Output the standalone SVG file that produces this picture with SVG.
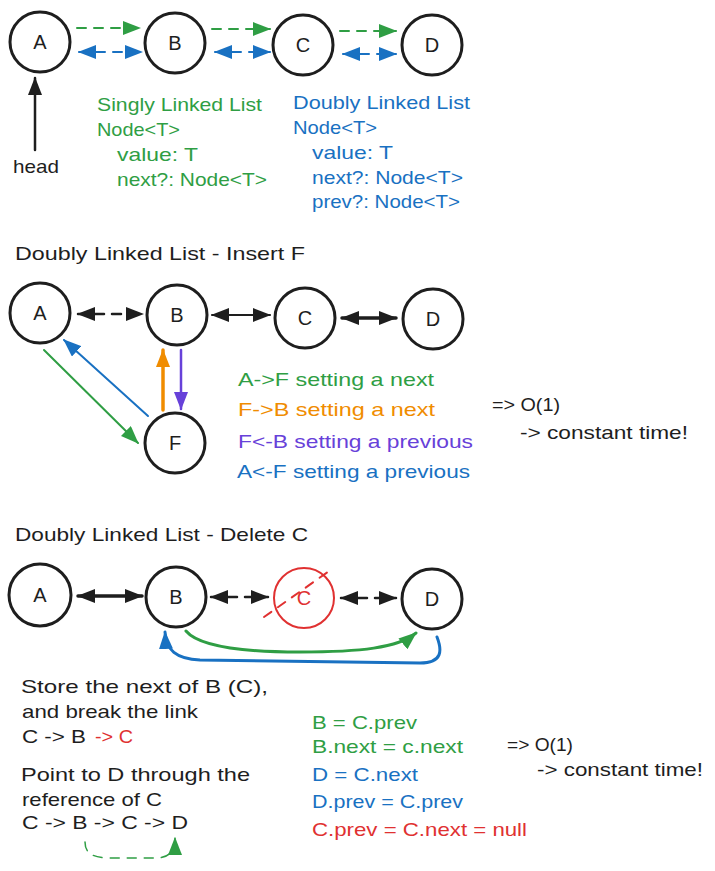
<svg xmlns="http://www.w3.org/2000/svg" width="715" height="871" viewBox="0 0 715 871">
<defs>
<style>
.bg{fill:#ffffff}
.node{fill:none;stroke:#1e1e1e;stroke-width:3}
.lbl{font-family:"Liberation Sans",Arial,sans-serif;font-size:20px;fill:#1e1e1e;text-anchor:middle}
.t{font-family:"Liberation Sans",Arial,sans-serif;font-size:19px}
.k{fill:#1e1e1e}.g{fill:#2f9e44}.b{fill:#1971c2}.o{fill:#f08c00}.p{fill:#6741d9}.r{fill:#e03131}
.ln{fill:none;stroke-linecap:round}
.sg{stroke:#2f9e44}.sb{stroke:#1971c2}.sk{stroke:#1e1e1e}.so{stroke:#f08c00}.sp{stroke:#6741d9}.sr{stroke:#e03131}
.dash{stroke-dasharray:9 8}
</style>
<marker id="mg" viewBox="0 0 18 14" refX="17" refY="7" markerWidth="18" markerHeight="14" markerUnits="userSpaceOnUse" orient="auto-start-reverse"><path d="M0,0 L18,7 L0,14 z" fill="#2f9e44"/></marker>
<marker id="mb" viewBox="0 0 18 14" refX="17" refY="7" markerWidth="18" markerHeight="14" markerUnits="userSpaceOnUse" orient="auto-start-reverse"><path d="M0,0 L18,7 L0,14 z" fill="#1971c2"/></marker>
<marker id="mk" viewBox="0 0 18 14" refX="17" refY="7" markerWidth="18" markerHeight="14" markerUnits="userSpaceOnUse" orient="auto-start-reverse"><path d="M0,0 L18,7 L0,14 z" fill="#1e1e1e"/></marker>
<marker id="mo" viewBox="0 0 18 14" refX="17" refY="7" markerWidth="18" markerHeight="14" markerUnits="userSpaceOnUse" orient="auto-start-reverse"><path d="M0,0 L18,7 L0,14 z" fill="#f08c00"/></marker>
<marker id="mp" viewBox="0 0 18 14" refX="17" refY="7" markerWidth="18" markerHeight="14" markerUnits="userSpaceOnUse" orient="auto-start-reverse"><path d="M0,0 L18,7 L0,14 z" fill="#6741d9"/></marker>
</defs>
<rect class="bg" x="0" y="0" width="715" height="871"/>

<!-- Section 1 nodes -->
<g id="s1-A"><circle class="node" cx="40" cy="42" r="30"/><text class="lbl" x="40" y="49">A</text></g>
<g id="s1-B"><circle class="node" cx="175" cy="43" r="30"/><text class="lbl" x="175" y="50">B</text></g>
<g id="s1-C"><circle class="node" cx="303" cy="45" r="30"/><text class="lbl" x="303" y="52">C</text></g>
<g id="s1-D"><circle class="node" cx="432" cy="45" r="30"/><text class="lbl" x="432" y="52">D</text></g>

<!-- Section 2 nodes -->
<g id="s2-A"><circle class="node" cx="40" cy="313" r="30"/><text class="lbl" x="40" y="320">A</text></g>
<g id="s2-B"><circle class="node" cx="177" cy="315" r="30"/><text class="lbl" x="177" y="322">B</text></g>
<g id="s2-C"><circle class="node" cx="305" cy="318" r="30"/><text class="lbl" x="305" y="325">C</text></g>
<g id="s2-D"><circle class="node" cx="433" cy="319" r="30"/><text class="lbl" x="433" y="326">D</text></g>
<g id="s2-F"><circle class="node" cx="175" cy="443" r="30"/><text class="lbl" x="175" y="450">F</text></g>

<!-- Section 3 nodes -->
<g id="s3-A"><circle class="node" cx="40" cy="595" r="31"/><text class="lbl" x="40" y="602">A</text></g>
<g id="s3-B"><circle class="node" cx="176" cy="597" r="30"/><text class="lbl" x="176" y="604">B</text></g>
<g id="s3-C"><circle class="node" cx="304" cy="598" r="30" style="stroke:#e03131;stroke-width:2"/><text class="lbl" x="304" y="605" style="fill:#e03131">C</text>
<line class="ln sr dash" x1="264" y1="617" x2="332" y2="569" stroke-width="2"/></g>
<g id="s3-D"><circle class="node" cx="432" cy="599" r="30"/><text class="lbl" x="432" y="606">D</text></g>

<!-- connectors -->
<g id="connectors">
<line class="ln sg dash" x1="77" y1="28" x2="140" y2="28" stroke-width="2" marker-end="url(#mg)"/>
<line class="ln sb dash" x1="79" y1="52" x2="142" y2="52" stroke-width="2" marker-start="url(#mb)" marker-end="url(#mb)"/>
<line class="ln sg dash" x1="212" y1="29" x2="270" y2="29" stroke-width="2" marker-end="url(#mg)"/>
<line class="ln sb dash" x1="215" y1="52" x2="270" y2="52" stroke-width="2" marker-start="url(#mb)" marker-end="url(#mb)"/>
<line class="ln sg dash" x1="340" y1="31" x2="396" y2="31" stroke-width="2" marker-end="url(#mg)"/>
<line class="ln sb dash" x1="343" y1="54" x2="396" y2="54" stroke-width="2" marker-start="url(#mb)" marker-end="url(#mb)"/>
<line class="ln sk" x1="35" y1="150" x2="35" y2="78" stroke-width="2.5" marker-end="url(#mk)"/>

<line class="ln sk dash" x1="78" y1="314" x2="143" y2="314" stroke-width="2.5" marker-start="url(#mk)" marker-end="url(#mk)"/>
<line class="ln sk" x1="212" y1="315" x2="270" y2="315" stroke-width="2" marker-start="url(#mk)" marker-end="url(#mk)"/>
<line class="ln sk" x1="342" y1="318" x2="396" y2="318" stroke-width="3.5" marker-start="url(#mk)" marker-end="url(#mk)"/>
<line class="ln sg" x1="44" y1="350" x2="138" y2="443" stroke-width="2" marker-end="url(#mg)"/>
<line class="ln sb" x1="148" y1="416" x2="64" y2="340" stroke-width="2" marker-end="url(#mb)"/>
<line class="ln so" x1="163" y1="410" x2="163" y2="350" stroke-width="3.5" marker-end="url(#mo)"/>
<line class="ln sp" x1="181" y1="350" x2="181" y2="409" stroke-width="2.5" marker-end="url(#mp)"/>

<line class="ln sk" x1="78" y1="596" x2="142" y2="596" stroke-width="3.5" marker-start="url(#mk)" marker-end="url(#mk)"/>
<line class="ln sk dash" x1="211" y1="597" x2="268" y2="597" stroke-width="2.5" marker-start="url(#mk)" marker-end="url(#mk)"/>
<line class="ln sk dash" x1="341" y1="598" x2="396" y2="598" stroke-width="2.5" marker-start="url(#mk)" marker-end="url(#mk)"/>
<path class="ln sg" d="M186,631 C200,648 250,652 300,652 C360,652 398,648 416,633" stroke-width="3" marker-end="url(#mg)"/>
<path class="ln sb" d="M437,637 C442,650 443,663 420,663 L200,660 C176,659 166,650 165,632" stroke-width="3" marker-end="url(#mb)"/>
<path class="ln sg dash" d="M85,842 C85,854 94,858 110,858 L158,858 C171,857 175,849 175,838" stroke-width="1.5" marker-end="url(#mg)"/>
</g>

<!-- texts -->
<g id="texts" class="t">
<text class="k" x="13" y="173" textLength="46" lengthAdjust="spacingAndGlyphs">head</text>
<text class="g" x="97" y="111" textLength="165" lengthAdjust="spacingAndGlyphs">Singly Linked List</text>
<text class="g" x="97" y="136" textLength="83" lengthAdjust="spacingAndGlyphs">Node&lt;T&gt;</text>
<text class="g" x="117" y="161" textLength="81" lengthAdjust="spacingAndGlyphs">value: T</text>
<text class="g" x="117" y="186" textLength="150" lengthAdjust="spacingAndGlyphs">next?: Node&lt;T&gt;</text>
<text class="b" x="293" y="109" textLength="177" lengthAdjust="spacingAndGlyphs">Doubly Linked List</text>
<text class="b" x="293" y="134" textLength="84" lengthAdjust="spacingAndGlyphs">Node&lt;T&gt;</text>
<text class="b" x="312" y="159" textLength="81" lengthAdjust="spacingAndGlyphs">value: T</text>
<text class="b" x="312" y="184" textLength="151" lengthAdjust="spacingAndGlyphs">next?: Node&lt;T&gt;</text>
<text class="b" x="312" y="208" textLength="148" lengthAdjust="spacingAndGlyphs">prev?: Node&lt;T&gt;</text>

<text class="k" x="15" y="260" textLength="290" lengthAdjust="spacingAndGlyphs">Doubly Linked List - Insert F</text>
<text class="g" x="238" y="386" textLength="196" lengthAdjust="spacingAndGlyphs">A-&gt;F setting a next</text>
<text class="o" x="238" y="416" textLength="197" lengthAdjust="spacingAndGlyphs">F-&gt;B setting a next</text>
<text class="p" x="238" y="448" textLength="235" lengthAdjust="spacingAndGlyphs">F&lt;-B setting a previous</text>
<text class="b" x="237" y="478" textLength="233" lengthAdjust="spacingAndGlyphs">A&lt;-F setting a previous</text>
<text class="k" x="492" y="411" textLength="68" lengthAdjust="spacingAndGlyphs">=&gt; O(1)</text>
<text class="k" x="520" y="439" textLength="168" lengthAdjust="spacingAndGlyphs">-&gt; constant time!</text>

<text class="k" x="15" y="541" textLength="293" lengthAdjust="spacingAndGlyphs">Doubly Linked List - Delete C</text>
<text class="k" x="21" y="693" textLength="247" lengthAdjust="spacingAndGlyphs">Store the next of B (C),</text>
<text class="k" x="22" y="718" textLength="176" lengthAdjust="spacingAndGlyphs">and break the link</text>
<text class="k" x="22" y="743" textLength="64" lengthAdjust="spacingAndGlyphs">C -&gt; B</text>
<text class="r" x="95" y="743" textLength="38" lengthAdjust="spacingAndGlyphs">-&gt; C</text>
<text class="k" x="21" y="781" textLength="229" lengthAdjust="spacingAndGlyphs">Point to D through the</text>
<text class="k" x="22" y="806" textLength="140" lengthAdjust="spacingAndGlyphs">reference of C</text>
<text class="k" x="22" y="829" textLength="166" lengthAdjust="spacingAndGlyphs">C -&gt; B -&gt; C -&gt; D</text>

<text class="g" x="312" y="729" textLength="105" lengthAdjust="spacingAndGlyphs">B = C.prev</text>
<text class="g" x="312" y="753" textLength="151" lengthAdjust="spacingAndGlyphs">B.next = c.next</text>
<text class="b" x="312" y="781" textLength="106" lengthAdjust="spacingAndGlyphs">D = C.next</text>
<text class="b" x="312" y="808" textLength="151" lengthAdjust="spacingAndGlyphs">D.prev = C.prev</text>
<text class="r" x="312" y="836" textLength="215" lengthAdjust="spacingAndGlyphs">C.prev = C.next = null</text>
<text class="k" x="507" y="751" textLength="66" lengthAdjust="spacingAndGlyphs">=&gt; O(1)</text>
<text class="k" x="537" y="776" textLength="166" lengthAdjust="spacingAndGlyphs">-&gt; constant time!</text>
</g>
</svg>
